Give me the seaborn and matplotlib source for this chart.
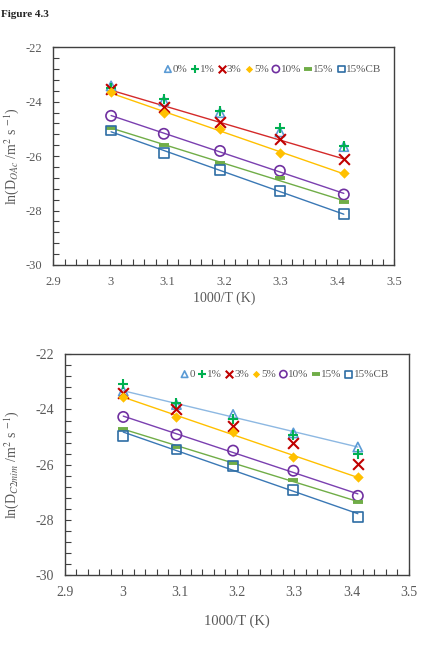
import matplotlib
matplotlib.use("Agg")
import matplotlib.pyplot as plt
import seaborn as sns
import numpy as np
from matplotlib.ticker import MultipleLocator

# 1000/T for 60, 50, 40, 30, 20 C
inv_T = [3.0017, 3.0945, 3.1934, 3.2987, 3.4112]

labels_top = ["0%", "1%", "3%", "5%", "10%", "15%", "15%CB"]
labels_bot = ["0", "1%", "3%", "5%", "10%", "15%", "15%CB"]

# ln(D_OAc)
oac_0 = [-23.42, -23.97, -24.40, -25.11, -25.65]
oac_1 = [-23.50, -23.91, -24.34, -24.97, -25.62]
oac_3 = [-23.54, -24.21, -24.76, -25.38, -26.11]
oac_5 = [-23.66, -24.42, -25.01, -25.89, -26.63]
oac_10 = [-24.52, -25.18, -25.81, -26.54, -27.41]
oac_15 = [-24.95, -25.59, -26.27, -26.82, -27.67]
oac_15cb = [-25.06, -25.87, -26.51, -27.28, -28.14]

# ln(D_C2mim)
c2_0 = [-23.33, -23.82, -24.18, -24.85, -25.36]
c2_1 = [-23.09, -23.76, -24.34, -24.91, -25.60]
c2_3 = [-23.39, -23.97, -24.61, -25.21, -25.96]
c2_5 = [-23.54, -24.27, -24.83, -25.72, -26.45]
c2_10 = [-24.27, -24.91, -25.49, -26.22, -27.13]
c2_15 = [-24.69, -25.36, -25.94, -26.55, -27.37]
c2_15cb = [-24.95, -25.45, -26.04, -26.91, -27.90]

top_series = [oac_0, oac_1, oac_3, oac_5, oac_10, oac_15, oac_15cb]
bot_series = [c2_0, c2_1, c2_3, c2_5, c2_10, c2_15, c2_15cb]
top_fit = [False, False, True, True, True, True, True]
bot_fit = [True, False, False, True, True, True, True]

colors = ["#5B9BD5", "#00B050", "#C00000", "#FFC000", "#7030A0", "#70AD47", "#2E6DA4"]
line_colors = ["#8DB8E2", "#00B050", "#D42A2A", "#FFC000", "#7A3FB0", "#70AD47", "#3A78B5"]
markers = ["^", "+", "x", "D", "o", "_", "s"]
sizes = [45, 60, 60, 28, 55, 60, 50]
open_marker = [True, False, False, False, True, False, True]

sns.set_style("white")
plt.rcParams["font.family"] = ["Liberation Serif", "DejaVu Serif"]
plt.rcParams["mathtext.fontset"] = "stix"

grey = "#595959"

fig = plt.figure(figsize=(4.29, 6.53), dpi=100)
fig.text(0.003, 0.978, "Figure 4.3", fontsize=8, fontweight="bold", va="center")

ax1 = fig.add_axes([0.1242, 0.5942, 0.7949, 0.3334])
ax2 = fig.add_axes([0.1515, 0.1194, 0.8012, 0.3380])


def draw(ax, series, fits, labels):
    for i, y in enumerate(series):
        skw = dict(s=sizes[i], alpha=1, zorder=3)
        if open_marker[i]:
            skw["facecolor"] = "none"
            skw["linewidths"] = 1.2
        elif markers[i] in ["+", "x"]:
            skw["linewidths"] = 1.5
        elif markers[i] == "_":
            skw["linewidths"] = 2.8
        else:
            skw["linewidths"] = 0
        sns.regplot(x=np.array(inv_T), y=np.array(y), ax=ax, marker=markers[i],
                    color=colors[i], fit_reg=fits[i], ci=None, truncate=True,
                    label=labels[i], scatter_kws=skw,
                    line_kws=dict(color=line_colors[i], lw=1.0, zorder=2))


def style(ax, fs):
    ax.set_xlim(2.9, 3.5)
    ax.set_ylim(-30, -22)
    xt = [2.9, 3.0, 3.1, 3.2, 3.3, 3.4, 3.5]
    ax.set_xticks(xt, [f"{v:g}" for v in xt])
    yt = [-30, -28, -26, -24, -22]
    ax.set_yticks(yt, [str(v) for v in yt])
    ax.xaxis.set_minor_locator(MultipleLocator(0.02))
    ax.yaxis.set_minor_locator(MultipleLocator(0.4))
    ax.tick_params(which="both", direction="in", bottom=True, left=True,
                   top=False, right=False, colors="#404040", labelcolor=grey,
                   labelsize=fs, width=0.8)
    ax.tick_params(which="major", length=4, pad=8)
    ax.tick_params(which="minor", length=4)
    for sp in ax.spines.values():
        sp.set_color("#404040")
        sp.set_linewidth(1.0)
    ax.set_xlabel("")
    ax.set_ylabel("")


draw(ax1, top_series, top_fit, labels_top)
draw(ax2, bot_series, bot_fit, labels_bot)
style(ax1, 9)
style(ax2, 10)

ax1.set_xlabel("1000/T (K)", fontsize=10, color=grey)
ax1.xaxis.set_label_coords(0.5, -0.12)
ax1.set_ylabel(r"ln(D$_{\mathit{OAc}}$ /m$^{2}$ s $^{-1}$)", fontsize=10, color=grey)
ax1.yaxis.set_label_coords(-0.095, 0.5)

ax2.set_xlabel("1000/T (K)", fontsize=10.5, color=grey)
ax2.xaxis.set_label_coords(0.5, -0.18)
ax2.set_ylabel(r"ln(D$_{\mathit{C2mim}}$ /m$^{2}$ s $^{-1}$)", fontsize=10, color=grey)
ax2.yaxis.set_label_coords(-0.128, 0.5)

for ax, anchor in [(ax1, (0.975, 0.90)), (ax2, (0.955, 0.91))]:
    handles, labs = ax.get_legend_handles_labels()
    keep = [(h, l) for h, l in zip(handles, labs) if not l.startswith("_")
            and hasattr(h, "get_offsets")]
    leg = ax.legend([h for h, _ in keep], [l for _, l in keep],
                    loc="center right", bbox_to_anchor=anchor, ncol=7,
                    frameon=False, fontsize=8, handletextpad=0.1,
                    columnspacing=0.3, handlelength=0.7, markerscale=0.7,
                    borderaxespad=0)
    for t in leg.get_texts():
        t.set_color(grey)

fig.savefig("out.png", dpi=100)
